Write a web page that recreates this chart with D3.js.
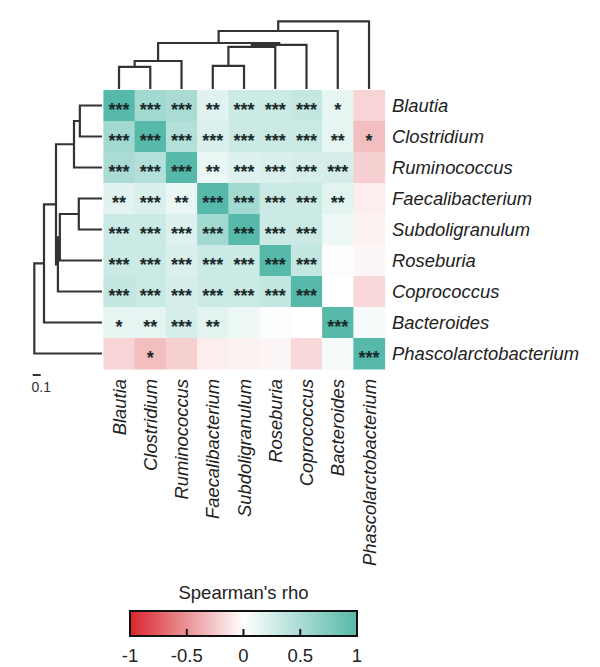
<!DOCTYPE html>
<html><head><meta charset="utf-8">
<script src="https://cdn.jsdelivr.net/npm/d3@7"></script>
<style>body{margin:0;background:#fff;} svg{display:block;font-family:"Liberation Sans",Arial,sans-serif;}</style>
</head><body><svg id="c" width="600" height="667"></svg>
<script>
// ---------------- data ----------------
const taxa = ["Blautia","Clostridium","Ruminococcus","Faecalibacterium","Subdoligranulum","Roseburia","Coprococcus","Bacteroides","Phascolarctobacterium"];
const rhoBlautia      = [1.00, 0.55, 0.50, 0.18, 0.30, 0.30, 0.35, 0.14, -0.20];
const rhoClostridium  = [0.55, 1.00, 0.45, 0.22, 0.30, 0.30, 0.32, 0.15, -0.30];
const rhoRuminococcus = [0.50, 0.45, 1.00, 0.12, 0.20, 0.22, 0.25, 0.24, -0.22];
const rhoFaecali      = [0.18, 0.22, 0.12, 1.00, 0.55, 0.30, 0.30, 0.17, -0.08];
const rhoSubdoli      = [0.30, 0.30, 0.20, 0.55, 1.00, 0.30, 0.30, 0.10, -0.06];
const rhoRoseburia    = [0.30, 0.30, 0.22, 0.30, 0.30, 1.00, 0.36, 0.02, -0.04];
const rhoCoprococcus  = [0.35, 0.32, 0.25, 0.30, 0.30, 0.36, 1.00, 0.00, -0.18];
const rhoBacteroides  = [0.14, 0.15, 0.24, 0.17, 0.10, 0.02, 0.00, 1.00, 0.06];
const rhoPhasco       = [-0.20,-0.30,-0.22,-0.08,-0.06,-0.04,-0.18, 0.06, 1.00];
const rho = [rhoBlautia, rhoClostridium, rhoRuminococcus, rhoFaecali, rhoSubdoli, rhoRoseburia, rhoCoprococcus, rhoBacteroides, rhoPhasco];

const stars = [
 ["***","***","***","**","***","***","***","*",""],
 ["***","***","***","***","***","***","***","**","*"],
 ["***","***","***","**","***","***","***","***",""],
 ["**","***","**","***","***","***","***","**",""],
 ["***","***","***","***","***","***","***","",""],
 ["***","***","***","***","***","***","***","",""],
 ["***","***","***","***","***","***","***","",""],
 ["*","**","***","**","","","","***",""],
 ["","*","","","","","","","***"]
];

// hierarchical clustering merges (child A, child B) and merge heights
const mergeLeft   = ["Blautia","m0","Faecalibacterium","m2","m3","m1","m5","m6"];
const mergeRight  = ["Clostridium","Ruminococcus","Subdoligranulum","Roseburia","Coprococcus","m4","Bacteroides","Phascolarctobacterium"];
const mergeHeight = [0.277, 0.35, 0.29, 0.527, 0.551, 0.575, 0.725, 0.846];

const colorTicks = [-1, -0.5, 0, 0.5, 1];
const legendTitle = "Spearman's rho";
const scaleBarValue = 0.1;

// ---------------- layout ----------------
const svg = d3.select("#c");
const hmLeft = 103.4, hmTop = 90, cellW = 31.25, cellH = 31.0;
const n = taxa.length;
const xS = d3.scaleBand().domain(taxa).range([hmLeft, hmLeft + cellW * n]);
const yS = d3.scaleBand().domain(taxa).range([hmTop, hmTop + cellH * n]);
const color = d3.scaleLinear().domain([-1, 0, 1]).range(["#d7262d", "#ffffff", "#56b9a9"]).interpolate(d3.interpolateRgb);
const hS = d3.scaleLinear().domain([0, 1]).range([0, 80]);

// cells
const cells = [];
taxa.forEach((r, i) => taxa.forEach((c, j) => cells.push({r, c, v: rho[i][j], s: stars[i][j]})));
svg.append("g").selectAll("rect").data(cells).join("rect")
  .attr("x", d => xS(d.c)).attr("y", d => yS(d.r))
  .attr("width", xS.bandwidth() + 0.5).attr("height", yS.bandwidth() + 0.5)
  .attr("fill", d => color(d.v));
svg.append("g").selectAll("text").data(cells.filter(d => d.s)).join("text")
  .attr("x", d => xS(d.c) + xS.bandwidth() / 2)
  .attr("y", d => yS(d.r) + yS.bandwidth() / 2 + 10)
  .attr("text-anchor", "middle").attr("font-size", 18).attr("font-weight", "bold").attr("fill", "#1a2a2a")
  .text(d => d.s);

// row labels
svg.append("g").selectAll("text").data(taxa).join("text")
  .attr("x", 392).attr("y", d => yS(d) + yS.bandwidth() / 2).attr("dy", "0.37em")
  .attr("font-size", 18.4).attr("font-style", "italic").attr("fill", "#222")
  .text(d => d);
// column labels
svg.append("g").selectAll("text").data(taxa).join("text")
  .attr("transform", d => `translate(${xS(d) + xS.bandwidth() / 2},379) rotate(-90)`)
  .attr("dy", "0.36em").attr("text-anchor", "end")
  .attr("font-size", 18.4).attr("font-style", "italic").attr("fill", "#222")
  .text(d => d);

// dendrogram nodes
const nodes = {};
taxa.forEach((t, i) => nodes[t] = {pos: i, h: 0});
mergeLeft.forEach((a, k) => {
  const A = nodes[a], B = nodes[mergeRight[k]];
  nodes["m" + k] = {pos: (A.pos + B.pos) / 2, h: mergeHeight[k], a: A, b: B};
});
const merges = mergeLeft.map((a, k) => nodes["m" + k]);

// column dendrogram
const colBase = 89;
const cx = p => hmLeft + cellW * (p + 0.5);
svg.append("g").attr("fill", "none").attr("stroke", "#333").attr("stroke-width", 2.2)
  .selectAll("path").data(merges).join("path")
  .attr("d", m => {
    const y = colBase - hS(m.h);
    return `M${cx(m.a.pos)},${colBase - hS(m.a.h)}V${y}H${cx(m.b.pos)}V${colBase - hS(m.b.h)}`;
  });
// row dendrogram
const rowBase = 102;
const ry = p => hmTop + cellH * (p + 0.5);
svg.append("g").attr("fill", "none").attr("stroke", "#333").attr("stroke-width", 2.2)
  .selectAll("path").data(merges).join("path")
  .attr("d", m => {
    const x = rowBase - hS(m.h);
    return `M${rowBase - hS(m.a.h)},${ry(m.a.pos)}H${x}V${ry(m.b.pos)}H${rowBase - hS(m.b.h)}`;
  });

// scale bar
svg.append("line").attr("x1", 32.7).attr("x2", 32.7 + hS(scaleBarValue)).attr("y1", 375).attr("y2", 375)
  .attr("stroke", "#333").attr("stroke-width", 2);
svg.append("text").attr("x", 31.5).attr("y", 391.5).attr("text-anchor", "start")
  .attr("font-size", 14).attr("fill", "#333").text(scaleBarValue);

// colour legend
const lgX0 = 130, lgX1 = 357, lgY = 611, lgH = 25;
const lgS = d3.scaleLinear().domain([-1, 1]).range([lgX0, lgX1]);
const defs = svg.append("defs");
const grad = defs.append("linearGradient").attr("id", "g").attr("x1", "0%").attr("x2", "100%");
d3.range(0, 21).map(i => -1 + i * 0.1).forEach(v => {
  grad.append("stop").attr("offset", ((v + 1) / 2 * 100) + "%").attr("stop-color", color(v));
});
svg.append("rect").attr("x", lgX0).attr("y", lgY).attr("width", lgX1 - lgX0).attr("height", lgH)
  .attr("fill", "url(#g)").attr("stroke", "#111").attr("stroke-width", 2);
svg.append("g").selectAll("line").data(colorTicks.slice(1, -1)).join("line")
  .attr("x1", d => lgS(d)).attr("x2", d => lgS(d))
  .attr("y1", lgY + lgH).attr("y2", lgY + lgH - 7)
  .attr("stroke", "#111").attr("stroke-width", 2);
svg.append("g").selectAll("text").data(colorTicks).join("text")
  .attr("x", d => lgS(d)).attr("y", 662).attr("text-anchor", "middle")
  .attr("font-size", 18.5).attr("fill", "#222")
  .text(d => d);
svg.append("text").attr("x", 243.5).attr("y", 599).attr("text-anchor", "middle")
  .attr("font-size", 18.5).attr("fill", "#222").text(legendTitle);
</script></body></html>
